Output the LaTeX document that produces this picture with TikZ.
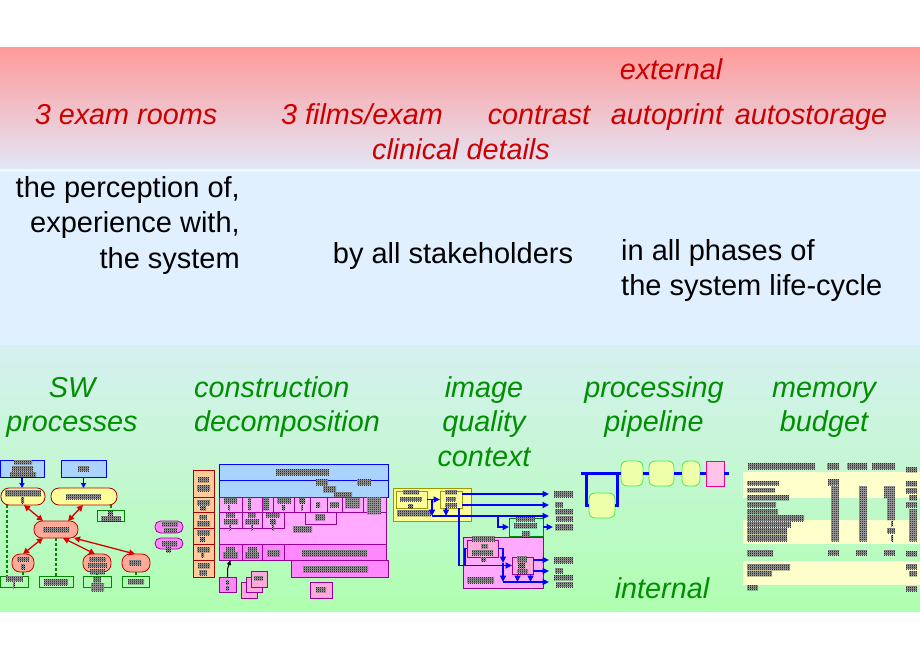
\documentclass[tikz,border=0pt]{standalone}
\usepackage{fontspec}
\setmainfont{Liberation Sans}
\usetikzlibrary{arrows.meta,patterns.meta,calc}

\definecolor{redtxt}{HTML}{CC0000}
\definecolor{grntxt}{HTML}{008F00}
\definecolor{bandtop}{HTML}{FF9A9A}
\definecolor{bandbot}{HTML}{E2E6F6}
\definecolor{bluebg}{HTML}{E0F0FF}
\definecolor{greentop}{HTML}{D6F0F0}
\definecolor{greenbot}{HTML}{AFFFB0}
\definecolor{lblue}{HTML}{AAD4FF}
\definecolor{lyel}{HTML}{FFFF99}
\definecolor{salm}{HTML}{FFAA99}
\definecolor{peach}{HTML}{FFCC99}
\definecolor{lpink}{HTML}{FFAAFF}
\definecolor{mpink}{HTML}{FF88FF}
\definecolor{cpink}{HTML}{FFAADD}
\definecolor{mint}{HTML}{AAFFCC}
\definecolor{lime}{HTML}{EEFFAA}
\definecolor{limeb}{HTML}{44EE44}
\definecolor{pale}{HTML}{FFFFCC}
\definecolor{dred}{HTML}{AA0000}
\definecolor{purp}{HTML}{990099}
\definecolor{dgreen}{HTML}{008800}
\definecolor{olive}{HTML}{999900}

\tikzdeclarepattern{
  name=chk,
  type=uncolored,
  bounding box={(0pt,0pt) and (2pt,2pt)},
  tile size={(2pt,2pt)},
  code={
    \pgfpathrectangle{\pgfpointorigin}{\pgfqpoint{1pt}{1pt}}
    \pgfpathrectangle{\pgfqpoint{1pt}{1pt}}{\pgfqpoint{1pt}{1pt}}
    \pgfusepath{fill}
  }
}

\tikzset{
  bx/.style={inner sep=0pt, outer sep=0pt, line width=0.8pt},
  bluebx/.style={bx, fill=lblue, draw=blue},
  yelr/.style={bx, fill=lyel, draw=dred, rounded corners=8pt},
  salr/.style={bx, fill=salm, draw=red!80!black, rounded corners=8pt},
  grnbx/.style={bx, draw=dgreen},
  pinkr/.style={bx, fill=lpink!80!magenta, draw=purp, rounded corners=5.5pt},
  peachbx/.style={bx, fill=peach, draw=dred},
  lpinkbx/.style={bx, fill=lpink, draw=purp},
  mpinkbx/.style={bx, fill=mpink, draw=purp},
  cpinkbx/.style={bx, fill=cpink, draw=purp},
  mintbx/.style={bx, fill=mint, draw=dgreen},
  yelbx/.style={bx, fill=lyel, draw=olive},
  limer/.style={bx, fill=lime, draw=limeb, rounded corners=6pt},
  magbx/.style={bx, fill=cpink!70!white, draw=magenta},
  greek/.style={preaction={fill=black!35}, pattern=chk, pattern color=black},
  bluearr/.style={draw=blue, line width=1.5pt, -{Triangle[length=5pt,width=5pt]}},
  redarr/.style={draw=red!85!black, line width=1.3pt, {Triangle[length=6pt,width=6pt]}-{Triangle[length=6pt,width=6pt]}},
  gdash/.style={draw=dgreen, line width=1.5pt, dash pattern=on 3pt off 2pt},
  pipe/.style={draw=blue, line width=3pt},
  iq/.style={draw=blue, line width=1.6pt},
  iqa/.style={iq, -{Triangle[length=6.5pt,width=6pt]}},
  blkarr/.style={draw=black, line width=1pt, -{Triangle[length=5pt,width=4pt]}},
  redt/.style={font=\fontsize{28.8}{34}\selectfont\itshape, text=redtxt, inner sep=0pt, anchor=base},
  blkt/.style={font=\fontsize{29}{34}\selectfont, text=black, inner sep=0pt},
  grnt/.style={font=\fontsize{28.8}{34}\selectfont\itshape, text=grntxt, inner sep=0pt, anchor=base},
}

\newcommand\bxn[6]{\node[#2, minimum width={(#5)-(#3)}, minimum height={(#6)-(#4)}] (#1) at ({((#3)+(#5))/2},{((#4)+(#6))/2}) {};}
\newcommand\gk[4]{\path[greek] (#1,#2) rectangle (#3,#4);}

\begin{document}
\begin{tikzpicture}[x=1pt,y=-1pt]
\useasboundingbox (0,0) rectangle (920,660);
% backgrounds
\fill[white] (0,0) rectangle (920,660);
\shade[top color=bandtop, bottom color=bandbot] (0,48) rectangle (920,169);
\fill[white!50!bluebg] (0,169) rectangle (920,172);
\fill[bluebg] (0,172) rectangle (920,345);
\shade[top color=greentop, bottom color=greenbot] (0,345) rectangle (920,611);

% texts
\node[redt] (ext) at (671,80) {external};
\node[redt] (rooms) at (126,125) {3 exam rooms};
\node[redt] (films) at (362,125) {3 films/exam};
\node[redt] (contr) at (539,125) {contrast};
\node[redt] (aprint) at (667,125) {autoprint};
\node[redt] (astore) at (811,125) {autostorage};
\node[redt] (clin) at (461,160) {clinical details};

\node[blkt, anchor=base east] (bl1) at (240,198) {the perception of,};
\node[blkt, anchor=base east] (bl2) at (240,233) {experience with,};
\node[blkt, anchor=base east] (bl3) at (240,268) {the system};
\node[blkt, anchor=base] (stk) at (453,263) {by all stakeholders};
\node[blkt, anchor=base west] (ph1) at (621,260) {in all phases of};
\node[blkt, anchor=base west] (ph2) at (621,295) {the system life-cycle};

\node[grnt] (sw1) at (72,397) {SW};
\node[grnt] (sw2) at (72,431) {processes};
\node[grnt, anchor=base west] (cd1) at (194,397) {construction};
\node[grnt, anchor=base west] (cd2) at (194,431) {decomposition};
\node[grnt] (iq1) at (484,397) {image};
\node[grnt] (iq2) at (484,431) {quality};
\node[grnt] (iq3) at (484,466) {context};
\node[grnt] (pp1) at (654,397) {processing};
\node[grnt] (pp2) at (654,431) {pipeline};
\node[grnt] (mb1) at (824,397) {memory};
\node[grnt] (mb2) at (824,431) {budget};
\node[grnt] (intl) at (662,598) {internal};

% ===== thumbnail 1: SW processes
\bxn{b1}{bluebx}{0}{460}{44}{477}
\bxn{b2}{bluebx}{61}{460}{106}{477}
\bxn{y1}{yelr}{1}{488}{45}{505}
\bxn{y2}{yelr}{51}{488}{117}{505}
\bxn{g0}{grnbx}{97}{510}{124}{521}
\bxn{s0}{salr}{34}{521}{78}{538}
\bxn{sA}{salr}{12}{554}{34}{572}
\bxn{sB}{salr}{83}{554}{111}{572}
\bxn{sC}{salr}{122}{554}{150}{572}
\bxn{G1}{grnbx}{0}{576}{28}{587}
\bxn{G2}{grnbx}{39}{576}{73}{587}
\bxn{G3}{grnbx}{83}{576}{111}{587}
\bxn{G4}{grnbx}{122}{576}{149}{587}
\bxn{e1}{pinkr}{155}{521}{183}{533}
\bxn{e2}{pinkr}{155}{538}{183}{549}

\draw[bluearr] (b1.south) -- (b1.south |- y1.north);
\draw[bluearr] (b2.south) -- (b2.south |- y2.north);
\draw[redarr] ($(y1.south)+(1,0)$) -- ($(s0.north)+(-13,0)$);
\draw[redarr] ($(y2.south)+(-1,0)$) -- ($(s0.north)+(12,0)$);
\draw[redarr] ($(s0.south)+(-13,0)$) -- (sA.north);
\draw[redarr] ($(s0.south)+(7,0)$) -- ($(sB.north)+(-2,0)$);
\draw[redarr] ($(s0.south)+(18,0)$) -- ($(sC.north)+(-1,0)$);
\draw[gdash] ($(y1.south)+(-16,0)$) -- ($(G1.north)+(-7,0)$);
\draw[gdash] (s0.south) -- (G2.north);
\draw[gdash] (sA.south) -- (sA.south |- G1.north);
\draw[gdash] (sB.south) -- (G3.north);
\draw[gdash] (sC.south) -- (sC.south |- G4.north);
\draw[gdash] ($(y2.south)+(27,0)$) -- ($(g0.north)+(0.5,0)$);

\gk{14}{460}{32}{464}\gk{12}{466}{33}{471}\gk{10}{472}{36}{477}
\gk{78}{466}{89}{471}
\gk{5}{490}{41}{496}\gk{21}{497}{24}{503}
\gk{66}{494}{101}{499}
\gk{108}{511}{113}{515}\gk{101}{516}{121}{521}
\gk{43}{527}{69}{532}
\gk{17}{557}{29}{561}\gk{21}{564}{25}{569}
\gk{89}{557}{106}{561}\gk{88}{563}{107}{567}\gk{90}{569}{105}{574}
\gk{129}{560}{141}{565}
\gk{6}{576}{23}{581}\gk{13}{582}{15}{588}
\gk{44}{579}{68}{585}
\gk{93}{577}{101}{582}\gk{91}{583}{104}{591}
\gk{128}{579}{144}{584}
\gk{162}{522}{178}{526}\gk{164}{528}{177}{532}
\gk{162}{541}{177}{546}\gk{166}{547}{171}{552}

% ===== thumbnail 2: construction decomposition
\bxn{c1}{peachbx}{193}{470}{214}{497}
\bxn{c2}{peachbx}{193}{497}{214}{512}
\bxn{c3}{peachbx}{193}{512}{214}{528}
\bxn{c4}{peachbx}{193}{528}{214}{544}
\bxn{c5}{peachbx}{193}{544}{214}{560}
\bxn{c6}{peachbx}{193}{560}{214}{577}
\gk{198}{477}{209}{482}\gk{197}{485}{210}{491}
\gk{197}{500}{210}{505}\gk{200}{506}{206}{510}
\gk{199}{515}{207}{519}\gk{197}{521}{210}{526}
\gk{197}{530}{210}{535}\gk{200}{537}{205}{541}
\gk{197}{547}{210}{552}\gk{201}{553}{204}{557}
\gk{198}{563}{210}{568}\gk{199}{570}{207}{575}

\bxn{bl1b}{bluebx}{219}{464}{388}{480}
\bxn{bl2b}{bluebx}{219}{480}{388}{497}
\gk{276}{469}{329}{475}\gk{316}{479}{328}{485}\gk{357}{479}{371}{485}
\gk{323}{486}{336}{492}\gk{334}{492}{352}{498}

\bxn{pk}{lpinkbx}{219}{497}{386}{544}
\bxn{r1a}{lpinkbx}{219}{497}{242}{512}
\bxn{r1b}{lpinkbx}{242}{497}{262}{512}
\bxn{r1c}{lpinkbx}{262}{497}{273}{512}
\bxn{r1d}{lpinkbx}{273}{497}{294}{512}
\bxn{r1e}{lpinkbx}{294}{497}{310}{512}
\bxn{r1f}{lpinkbx}{310}{497}{327}{512}
\bxn{r1g}{lpinkbx}{327}{497}{342}{512}
\bxn{r1h}{lpinkbx}{342}{497}{363}{512}
\bxn{r1i}{lpinkbx}{363}{497}{386}{512}
\bxn{r2a}{lpinkbx}{219}{512}{242}{528}
\bxn{r2b}{lpinkbx}{242}{512}{262}{528}
\bxn{r2c}{lpinkbx}{262}{512}{284}{528}
\bxn{r2d}{lpinkbx}{305}{512}{336}{524}
\gk{224}{498}{237}{503}\gk{228}{505}{230}{510}
\gk{248}{498}{251}{510}
\gk{263}{498}{269}{510}
\gk{277}{498}{291}{503}\gk{282}{505}{285}{510}
\gk{299}{498}{305}{503}\gk{301}{505}{303}{510}
\gk{316}{502}{320}{507}
\gk{330}{502}{339}{507}
\gk{345}{498}{360}{508}
\gk{367}{497}{381}{514}
\gk{226}{513}{235}{517}\gk{224}{519}{238}{524}\gk{229}{525}{231}{530}
\gk{248}{513}{256}{517}\gk{245}{519}{259}{524}\gk{251}{525}{253}{530}
\gk{266}{513}{280}{517}\gk{270}{519}{276}{524}\gk{272}{525}{274}{530}
\gk{315}{514}{325}{520}
\gk{293}{526}{312}{532}

\bxn{r3a}{mpinkbx}{219}{544}{242}{560}
\bxn{r3b}{mpinkbx}{242}{544}{262}{560}
\bxn{r3c}{mpinkbx}{262}{544}{284}{560}
\bxn{r3d}{mpinkbx}{284}{544}{386}{560}
\bxn{lw}{mpinkbx}{291}{560}{388}{577}
\gk{226}{547}{235}{551}\gk{223}{552}{238}{558}
\gk{248}{547}{257}{551}\gk{245}{552}{259}{558}
\gk{267}{550}{280}{556}
\gk{302}{550}{367}{556}
\gk{303}{566}{368}{572}

\bxn{sm}{mpinkbx}{219}{577}{236}{592}
\gk{226}{580}{229}{584}\gk{226}{586}{229}{590}
\bxn{k1}{cpinkbx}{241}{582}{257}{598}
\bxn{k2}{cpinkbx}{246}{577}{262}{592}
\bxn{k3}{cpinkbx}{251}{571}{267}{587}
\gk{254}{576}{263}{580}
\bxn{bx9}{cpinkbx}{310}{582}{332}{598}
\gk{316}{587}{326}{592}
\draw[blkarr] (sm.north) -- ($(sm.north)+(0,-8)$) -- (r3a.south);

% ===== thumbnail 3: image quality context
\bxn{iyo}{yelbx}{393}{488}{471}{521}
\bxn{iy1}{yelbx}{396}{491}{427}{508}
\bxn{iy2}{yelbx}{440}{491}{462}{508}
\bxn{igr}{mintbx}{509}{518}{543}{536}
\bxn{ipo}{lpinkbx}{463}{537}{543}{588}
\bxn{ip1}{cpinkbx}{467}{540}{498}{557}
\bxn{ip2}{cpinkbx}{512}{557}{533}{574}
\gk{403}{490}{419}{494}\gk{400}{497}{422}{501}\gk{408}{504}{413}{508}
\gk{397}{510}{431}{516}
\gk{445}{490}{457}{494}\gk{446}{497}{456}{501}\gk{445}{503}{457}{507}
\gk{516}{516}{535}{521}\gk{514}{523}{537}{528}\gk{522}{531}{530}{537}
\gk{472}{536}{495}{541}\gk{481}{544}{488}{548}\gk{472}{550}{493}{555}\gk{481}{557}{486}{561}
\gk{517}{556}{527}{562}\gk{518}{563}{525}{568}\gk{517}{569}{528}{573}
\gk{467}{577}{494}{583}

\coordinate (o1) at (549,494);
\coordinate (o2) at (549,505);
\coordinate (o3) at (549,516);
\coordinate (o4) at (553,527);
\coordinate (o5) at (549,560);
\coordinate (o6) at (549,571);
\coordinate (o7) at (549,582);
\coordinate (j1) at (432,499.5);
\coordinate (j2) at (498,516);
\coordinate (j3a) at (503,563);
\coordinate (j3) at (503,582);
\coordinate (j4) at (465,565.5);
\draw[iqa] (iy1.east) -- (iy2.west);
\draw[iqa] (iy2.east |- o1) -- (o1);
\draw[iqa] (iy2.east |- o2) -- (o2);
\draw[iqa] (j1) -- (j1 |- o3);
\draw[iqa] (j1 |- o3) -- (o3);
\draw[iqa] ($(iy2.south)+(-5,0)$) -- ($(iy2.south)+(-5,8)$);
\draw[iqa] ($(iy2.south)+(8,0)$) |- (ip2.west);
\draw[iq] (ip1.west) -| (j4);
\draw[iqa] (j2) |- (igr.west);
\draw[iqa] (igr.east) -- (o4);
\draw[iqa] (ip2.east |- o5) -- (o5);
\draw[iqa] (ip2.east |- o6) -- (o6);
\draw[iqa] (ip1.east) -| (j3a);
\draw[iqa] (j3a) -- (j3);
\draw[iqa] (j3) -- (o7);
\draw[iqa] ($(ip2.south)+(-5,0)$) -- ($(ip2.south)+(-5,8)$);
\draw[iqa] ($(ip2.south)+(8,0)$) -- ($(ip2.south)+(8,8)$);
\gk{554}{491}{573}{497}\gk{555}{502}{563}{507}\gk{555}{509}{573}{514}
\gk{556}{516}{573}{521}\gk{555}{524}{573}{530}
\gk{554}{557}{573}{563}\gk{555}{568}{563}{573}\gk{554}{575}{573}{580}\gk{556}{582}{573}{587}

% ===== thumbnail 4: processing pipeline
\bxn{p1}{limer}{621}{461}{643}{486}
\bxn{p2}{limer}{649}{461}{674}{486}
\bxn{p3}{limer}{682}{461}{700}{486}
\bxn{pr}{magbx}{706}{461}{724}{486}
\bxn{p0}{limer}{589}{493}{615}{518}
\coordinate (q0) at (581,473.5);
\coordinate (q1) at (586,473.5);
\coordinate (q2) at (617,473.5);
\coordinate (q5) at (729,473.5);
\draw[pipe] (q0) -- (p1.west);
\draw[pipe] (p1.east) -- (p2.west);
\draw[pipe] (p2.east) -- (p3.west);
\draw[pipe] (p3.east) -- (pr.west);
\draw[pipe] (pr.east) -- (q5);
\draw[pipe] (q1) |- (p0.west);
\draw[pipe] (q2) |- (p0.east);

% ===== thumbnail 5: memory budget
\fill[pale] (743,472) rectangle (920,498);
\fill[pale] (743,520) rectangle (920,544);
\fill[pale] (743,561) rectangle (920,585);
\gk{748}{463}{815}{469}\gk{827}{463}{839}{469}\gk{847}{463}{867}{469}\gk{872}{463}{895}{469}\gk{906}{467}{917}{472}
\gk{747}{481}{779}{485}\gk{747}{488}{775}{492}\gk{747}{495}{789}{500}
\gk{747}{502}{776}{507}\gk{747}{509}{778}{514}\gk{747}{515}{804}{521}
\gk{747}{522}{791}{527}\gk{747}{528}{787}{534}\gk{747}{535}{787}{541}
\gk{747}{550}{773}{556}\gk{747}{564}{790}{570}\gk{747}{571}{772}{576}\gk{747}{585}{758}{590}
\gk{828}{479}{839}{485}\gk{831}{486}{839}{541}
\gk{859}{486}{867}{541}
\gk{884}{486}{895}{498}\gk{887}{498}{895}{520}\gk{891}{521}{893}{526}\gk{887}{528}{895}{533}\gk{891}{535}{893}{541}
\gk{906}{481}{917}{486}\gk{906}{488}{917}{493}\gk{909}{495}{917}{500}\gk{906}{502}{917}{507}\gk{909}{509}{917}{541}
\gk{828}{550}{839}{555}\gk{856}{550}{867}{555}\gk{884}{550}{895}{555}\gk{906}{551}{917}{556}
\gk{906}{564}{917}{569}\gk{909}{571}{917}{576}\gk{906}{586}{917}{591}
\end{tikzpicture}
\end{document}
